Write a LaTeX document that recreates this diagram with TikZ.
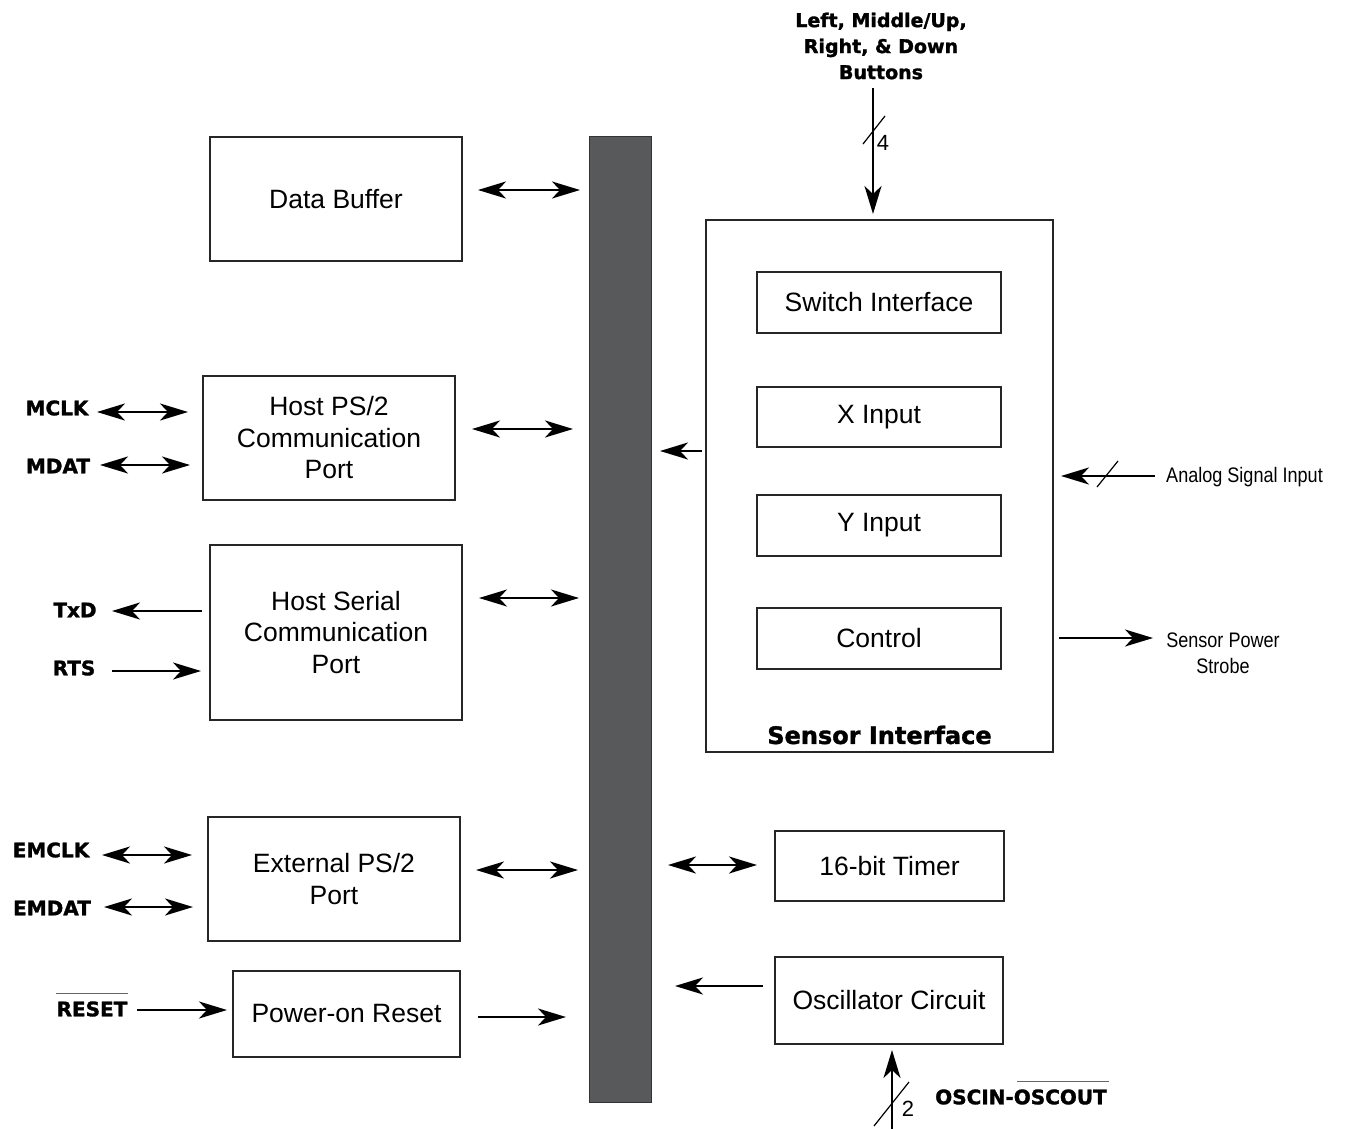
\documentclass[tikz,border=0pt]{standalone}
\usepackage{fontspec}
\setmainfont{Liberation Sans}
\newfontfamily\boldlab{DejaVu Sans Bold}[FakeBold=1.5]
\newfontfamily\narrowfont{Liberation Sans}[FakeStretch=0.86]
\usetikzlibrary{arrows.meta}
\definecolor{busgray}{HTML}{58595B}
\begin{document}
\begin{tikzpicture}[x=1pt,y=-1pt,
  blk/.style={draw=black!85,line width=1.3pt,rectangle,inner sep=0pt,align=center,
    font=\fontsize{26.5}{31.5}\selectfont},
  tip/.tip={Stealth[length=28pt,width=17pt,inset=8pt]},
  sig/.style={line width=2.6pt,-tip},
  bisig/.style={line width=2.6pt,tip-tip},
  lab/.style={font=\boldlab\fontsize{20}{24}\selectfont,inner sep=0pt},
  small/.style={font=\narrowfont\fontsize{21}{26}\selectfont,inner sep=0pt,align=center},
  slash/.style={line width=1.2pt},
  num/.style={font=\fontsize{22}{26}\selectfont,inner sep=0pt}
]
\useasboundingbox (0,0) rectangle (1345,1129);
% bus
\node[draw=black!80,fill=busgray,line width=1pt,minimum width=62pt,minimum height=965pt,inner sep=0pt] (bus) at (620,619.5) {};
% left blocks
\node[blk,minimum width=252pt,minimum height=124pt] (db) at (336,199) {Data Buffer};
\node[blk,minimum width=252pt,minimum height=124pt] (hps) at (329,438) {Host PS/2\\Communication\\Port};
\node[blk,minimum width=252pt,minimum height=175pt] (hsc) at (336,632.5) {Host Serial\\Communication\\Port};
\node[blk,minimum width=252pt,minimum height=124pt] (eps) at (334,879) {External PS/2\\Port};
\node[blk,minimum width=227pt,minimum height=86pt] (por) at (346.5,1014) {Power-on Reset};
% sensor interface
\node[blk,minimum width=347pt,minimum height=532pt] (sens) at (879.5,486) {};
\node[font=\boldlab\fontsize{24}{28}\selectfont,inner sep=0pt] (senslab) at (879.5,735) {Sensor Interface};
\node[blk,minimum width=244pt,minimum height=61pt] (sw) at (879,302.5) {Switch Interface};
\node[blk,minimum width=244pt,minimum height=60pt] (xin) at (879,417) {X Input};
\node[blk,minimum width=244pt,minimum height=61pt] (yin) at (879,525.5) {Y Input};
\node[blk,minimum width=244pt,minimum height=61pt] (ctl) at (879,638.5) {Control};
% right-bottom blocks
\node[blk,minimum width=229pt,minimum height=70pt] (tim) at (889.5,866) {16-bit Timer};
\node[blk,minimum width=228pt,minimum height=87pt] (osc) at (889,1000.5) {Oscillator Circuit};
% bus arrows
\coordinate (dbA) at (478,190); \coordinate (dbB) at (580,190);
\draw[bisig] (dbA) -- (dbB);
\coordinate (hpsA) at (472,429); \coordinate (hpsB) at (573,429);
\draw[bisig] (hpsA) -- (hpsB);
\coordinate (hscA) at (479,598); \coordinate (hscB) at (579,598);
\draw[bisig] (hscA) -- (hscB);
\coordinate (epsA) at (476,870); \coordinate (epsB) at (578,870);
\draw[bisig] (epsA) -- (epsB);
\coordinate (porA) at (478,1017); \coordinate (porB) at (566,1017);
\draw[sig] (porA) -- (porB);
\coordinate (sensA) at (702,451); \coordinate (sensB) at (660,451);
\draw[sig] (sensA) -- (sensB);
\coordinate (timA) at (668,865); \coordinate (timB) at (757,865);
\draw[bisig] (timA) -- (timB);
\coordinate (oscA) at (763,986); \coordinate (oscB) at (675,986);
\draw[sig] (oscA) -- (oscB);
% left signals
\node[lab] (mclk) at (57,408) {MCLK};
\coordinate (mclkA) at (97,412); \coordinate (mclkB) at (188,412);
\draw[bisig] (mclkA) -- (mclkB);
\node[lab] (mdat) at (58,466) {MDAT};
\coordinate (mdatA) at (100,465); \coordinate (mdatB) at (190,465);
\draw[bisig] (mdatA) -- (mdatB);
\node[lab] (txd) at (75,610) {TxD};
\coordinate (txdA) at (202,611); \coordinate (txdB) at (112,611);
\draw[sig] (txdA) -- (txdB);
\node[lab] (rts) at (74,668) {RTS};
\coordinate (rtsA) at (112,671); \coordinate (rtsB) at (201,671);
\draw[sig] (rtsA) -- (rtsB);
\node[lab] (emclk) at (51,850) {EMCLK};
\coordinate (emclkA) at (102,855); \coordinate (emclkB) at (192,855);
\draw[bisig] (emclkA) -- (emclkB);
\node[lab] (emdat) at (52,908) {EMDAT};
\coordinate (emdatA) at (104,907); \coordinate (emdatB) at (193,907);
\draw[bisig] (emdatA) -- (emdatB);
\node[lab] (reset) at (92,1009) {RESET};
\draw[line width=1pt,black!60] (56,993) -- (128,993);
\coordinate (resetA) at (137,1010); \coordinate (resetB) at (227,1010);
\draw[sig] (resetA) -- (resetB);
% buttons
\node[lab,font=\boldlab\fontsize{19}{26}\selectfont,align=center] (btn) at (881,46) {Left, Middle/Up,\\Right, \& Down\\Buttons};
\coordinate (btnA) at (873,88); \coordinate (btnB) at (873,214);
\draw[sig] (btnA) -- (btnB);
\draw[slash] (863,144) -- (885,116);
\node[num] (n4) at (883,143) {4};
% analog
\node[small,anchor=west] (ana) at (1166,477) {Analog Signal Input};
\coordinate (anaA) at (1155,476); \coordinate (anaB) at (1061,476);
\draw[sig] (anaA) -- (anaB);
\draw[slash] (1097,487) -- (1118,461);
% sensor power strobe
\node[small] (sps) at (1223,653) {Sensor Power\\Strobe};
\coordinate (spsA) at (1059,638); \coordinate (spsB) at (1153,638);
\draw[sig] (spsA) -- (spsB);
% oscin
\coordinate (oscinA) at (892,1129); \coordinate (oscinB) at (892,1050);
\draw[sig] (oscinA) -- (oscinB);
\draw[slash] (874,1126) -- (909,1082);
\node[num] (n2) at (908,1109) {2};
\node[lab] (oscin) at (1021,1097) {OSCIN-OSCOUT};
\draw[line width=1pt,black!60] (1017,1081) -- (1109,1081);
\end{tikzpicture}
\end{document}
